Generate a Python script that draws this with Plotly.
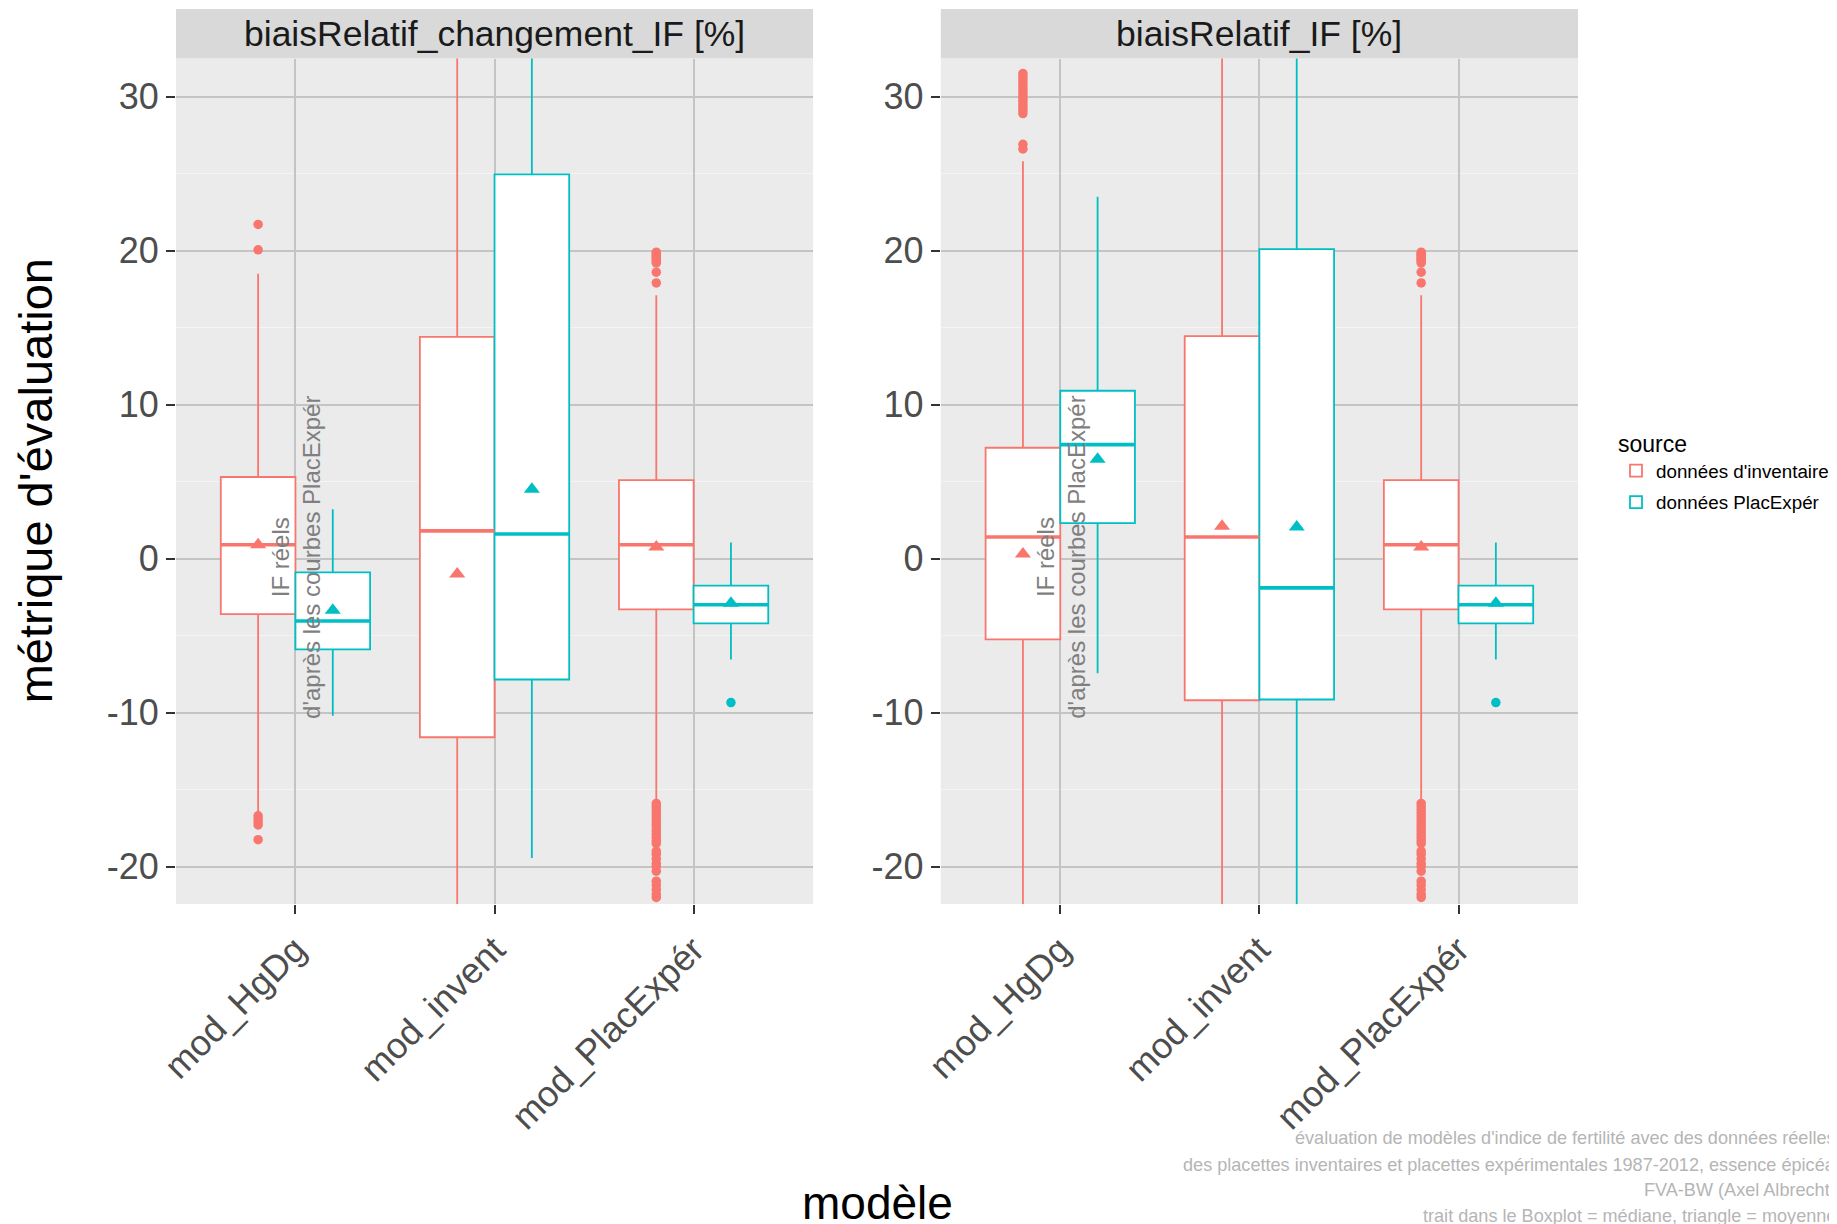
import plotly.graph_objects as go
from plotly.subplots import make_subplots

# ---------------- data ----------------
models = ["mod_HgDg", "mod_invent", "mod_PlacExpér"]
sources = ["données d'inventaire", "données PlacExpér"]
panels = ["biaisRelatif_changement_IF [%]", "biaisRelatif_IF [%]"]
y_ticks = [-20, -10, 0, 10, 20, 30]

# panel 1 : biaisRelatif_changement_IF, source = inventaire
p1_inv_q1 = [-3.6, -11.6, -3.3]
p1_inv_med = [0.9, 1.8, 0.9]
p1_inv_q3 = [5.3, 14.4, 5.1]
p1_inv_lo = [-16.6, -40.0, -15.9]
p1_inv_hi = [18.5, 45.0, 17.1]
p1_inv_mean = [0.9, -1.0, 0.75]
p1_inv_out = [
    [21.7, 20.05, -16.7, -16.9, -17.1, -17.3, -18.25],
    [],
    [19.9, 19.8, 19.7, 19.6, 19.5, 19.4, 19.3, 19.2, 18.6, 17.9,
     -15.9, -16.1, -16.3, -16.5, -16.7, -16.9, -17.1, -17.3, -17.5, -17.7,
     -17.9, -18.1, -18.3, -18.5, -19.0, -19.2, -19.5, -19.8, -20.0, -20.3,
     -20.95, -21.2, -21.5, -21.8, -22.0],
]
# panel 1, source = PlacExpér
p1_pe_q1 = [-5.9, -7.85, -4.2]
p1_pe_med = [-4.05, 1.6, -3.0]
p1_pe_q3 = [-0.9, 24.95, -1.75]
p1_pe_lo = [-10.2, -19.45, -6.55]
p1_pe_hi = [3.2, 45.0, 1.05]
p1_pe_mean = [-3.35, 4.5, -2.9]
p1_pe_out = [[], [], [-9.35]]

# panel 2 : biaisRelatif_IF, source = inventaire
p2_inv_q1 = [-5.25, -9.2, -3.3]
p2_inv_med = [1.4, 1.4, 0.9]
p2_inv_q3 = [7.2, 14.45, 5.1]
p2_inv_lo = [-40.0, -40.0, -15.9]
p2_inv_hi = [25.8, 45.0, 17.1]
p2_inv_mean = [0.3, 2.1, 0.75]
p2_inv_out = [
    [31.5, 31.3, 31.1, 30.9, 30.7, 30.5, 30.3, 30.1, 29.9, 29.7, 29.5,
     29.3, 29.1, 28.9, 26.9, 26.6],
    [],
    [19.9, 19.8, 19.7, 19.6, 19.5, 19.4, 19.3, 19.2, 18.6, 17.9,
     -15.9, -16.1, -16.3, -16.5, -16.7, -16.9, -17.1, -17.3, -17.5, -17.7,
     -17.9, -18.1, -18.3, -18.5, -19.0, -19.2, -19.5, -19.8, -20.0, -20.3,
     -20.95, -21.2, -21.5, -21.8, -22.0],
]
# panel 2, source = PlacExpér
p2_pe_q1 = [2.3, -9.15, -4.2]
p2_pe_med = [7.4, -1.9, -3.0]
p2_pe_q3 = [10.9, 20.1, -1.75]
p2_pe_lo = [-7.45, -40.0, -6.55]
p2_pe_hi = [23.5, 45.0, 1.05]
p2_pe_mean = [6.45, 2.05, -2.9]
p2_pe_out = [[], [], [-9.35]]

note_text = "IF réels<br>d'après les courbes PlacExpér"
caption_lines = [
    "évaluation de modèles d'indice de fertilité avec des données réelles",
    "des placettes inventaires et placettes expérimentales 1987-2012, essence épicéa",
    "FVA-BW (Axel Albrecht)",
    "trait dans le Boxplot = médiane, triangle = moyenne",
]

# ---------------- style ----------------
FONT = "Liberation Sans, Arial, sans-serif"
colors = ["#F8766D", "#00BFC4"]
DODGE = 0.75
offsets = [-DODGE / 4, DODGE / 4]
BOXW = DODGE / 2
Y_RANGE = [-22.43, 32.47]

panel_data = [
    [
        (p1_inv_q1, p1_inv_med, p1_inv_q3, p1_inv_lo, p1_inv_hi, p1_inv_mean, p1_inv_out),
        (p1_pe_q1, p1_pe_med, p1_pe_q3, p1_pe_lo, p1_pe_hi, p1_pe_mean, p1_pe_out),
    ],
    [
        (p2_inv_q1, p2_inv_med, p2_inv_q3, p2_inv_lo, p2_inv_hi, p2_inv_mean, p2_inv_out),
        (p2_pe_q1, p2_pe_med, p2_pe_q3, p2_pe_lo, p2_pe_hi, p2_pe_mean, p2_pe_out),
    ],
]

fig = make_subplots(rows=1, cols=2, horizontal_spacing=0.0911)
cat_pos = list(range(1, len(models) + 1))

for pi, pdata in enumerate(panel_data):
    col = pi + 1
    for si, (q1, med, q3, lo, hi, mean, outs) in enumerate(pdata):
        c = colors[si]
        xs = [p + offsets[si] for p in cat_pos]
        fig.add_trace(go.Box(
            x=xs, q1=q1, median=med, q3=q3, lowerfence=lo, upperfence=hi,
            width=BOXW, fillcolor="white", line=dict(color=c, width=1.8),
            whiskerwidth=0, boxpoints=False, name=sources[si],
            legendgroup=sources[si], showlegend=(pi == 0), hoverinfo="skip",
        ), row=1, col=col)
        # thick median line (ggplot fatten)
        mx, my = [], []
        for x0, m in zip(xs, med):
            mx += [x0 - BOXW / 2, x0 + BOXW / 2, None]
            my += [m, m, None]
        fig.add_trace(go.Scatter(x=mx, y=my, mode="lines",
                                 line=dict(color=c, width=3.6),
                                 showlegend=False, hoverinfo="skip"), row=1, col=col)
        # outliers
        ox, oy = [], []
        for x0, vals in zip(xs, outs):
            ox += [x0] * len(vals)
            oy += vals
        fig.add_trace(go.Scatter(x=ox, y=oy, mode="markers",
                                 marker=dict(color=c, size=9.5, symbol="circle"),
                                 showlegend=False, hoverinfo="skip"), row=1, col=col)
        # means (triangles)
        fig.add_trace(go.Scatter(x=xs, y=mean, mode="markers",
                                 marker=dict(color=c, size=14, symbol="triangle-up"),
                                 showlegend=False, hoverinfo="skip"), row=1, col=col)

# ---------------- layout ----------------
# page body has an 8px margin: the figure is shifted by OFF px
OFF = 8
W, H = 1837, 1224 - OFF
ML, MR, MT, MB = 176 - OFF, 259 + OFF, 9 - OFF, 320
plot_h = H - MT - MB
ydom_top = 1 - (58.6 - OFF - MT) / plot_h

def py(pix):
    # pix = reference pixel y
    return 1 - (pix - OFF - MT) / plot_h

def px(pix):
    return (pix - OFF - ML) / (W - ML - MR)

axis_common = dict(showline=False, zeroline=False, ticks="outside", ticklen=9,
                   tickwidth=1.5, tickcolor="#333333",
                   tickfont=dict(family=FONT, size=36, color="#4D4D4D"),
                   gridcolor="#C4C4C4", gridwidth=1.6)

doms = [[0, 0.4544], [0.5455, 1]]
for i, dom in enumerate(doms):
    xa = "xaxis" if i == 0 else "xaxis2"
    ya = "yaxis" if i == 0 else "yaxis2"
    fig.layout[xa].update(domain=dom, range=[0.4, 3.6], tickmode="array",
                          tickvals=cat_pos, ticktext=models, tickangle=-45,
                          **axis_common)
    fig.layout[ya].update(domain=[0, ydom_top], range=Y_RANGE, tickmode="array",
                          tickvals=y_ticks, ticktext=[str(v) for v in y_ticks],
                          minor=dict(tickvals=[-15, -5, 5, 15, 25], showgrid=True,
                                     gridcolor="#F4F4F4", gridwidth=1, ticks=""),
                          **axis_common)

shapes = []
annotations = []
for i, dom in enumerate(doms):
    shapes.append(dict(type="rect", xref="paper", yref="paper", x0=dom[0], x1=dom[1],
                       y0=ydom_top, y1=1.0, fillcolor="#D9D9D9", line=dict(width=0),
                       layer="below"))
    annotations.append(dict(text=panels[i], xref="paper", yref="paper",
                            x=(dom[0] + dom[1]) / 2, y=(ydom_top + 1) / 2,
                            xanchor="center", yanchor="middle", showarrow=False,
                            font=dict(family=FONT, size=35.5, color="#1A1A1A")))
    annotations.append(dict(text=note_text, xref="x" if i == 0 else "x2",
                            yref="y" if i == 0 else "y2", x=cat_pos[0], y=0.07,
                            textangle=-90, showarrow=False, align="center",
                            font=dict(family=FONT, size=24, color="#7F7F7F")))

annotations.append(dict(text="métrique d'évaluation", xref="paper", yref="paper",
                        x=px(35), y=ydom_top / 2, textangle=-90, showarrow=False,
                        xanchor="center", yanchor="middle",
                        font=dict(family=FONT, size=47, color="black")))
annotations.append(dict(text="modèle", xref="paper", yref="paper",
                        x=0.5, y=py(1203), showarrow=False,
                        xanchor="center", yanchor="middle",
                        font=dict(family=FONT, size=46, color="black")))
for line, ypix in zip(caption_lines, [1138, 1165, 1190, 1216]):
    annotations.append(dict(text=line, xref="paper", yref="paper",
                            x=px(1838), y=py(ypix), showarrow=False,
                            xanchor="right", yanchor="middle",
                            font=dict(family=FONT, size=18.1, color="#B5B5B5")))

fig.update_layout(
    width=W, height=H, margin=dict(l=ML, r=MR, t=MT, b=MB),
    paper_bgcolor="white", plot_bgcolor="#EBEBEB",
    boxmode="overlay", shapes=shapes, annotations=annotations,
    font=dict(family=FONT),
    legend=dict(x=px(1616), y=py(422), xanchor="left", yanchor="top",
                title=dict(text="source", font=dict(family=FONT, size=23, color="black")),
                font=dict(family=FONT, size=18.8, color="black"),
                bgcolor="rgba(0,0,0,0)", tracegroupgap=4),
)

fig.write_html("out.html")
